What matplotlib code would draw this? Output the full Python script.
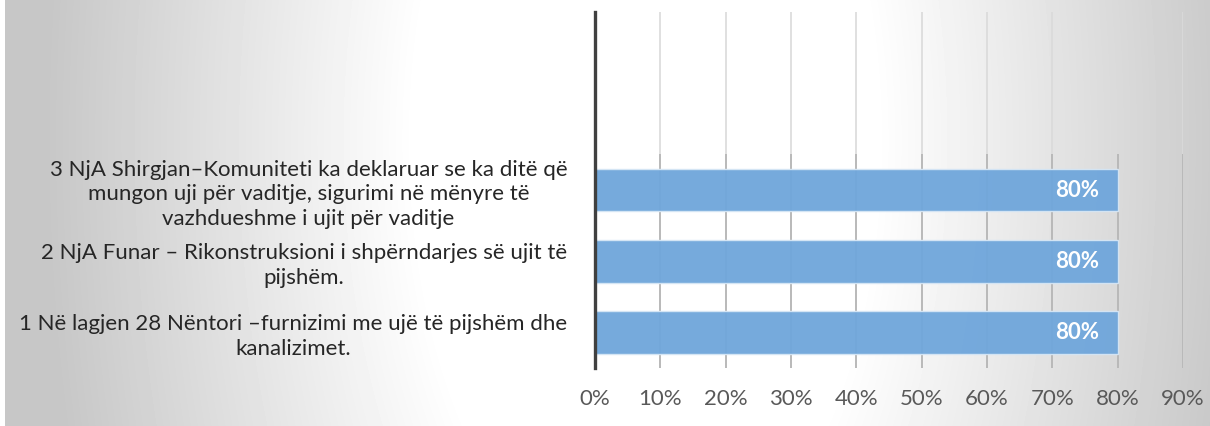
import numpy as np
import matplotlib.pyplot as plt
from matplotlib.ticker import PercentFormatter

plt.rcParams['font.family'] = ['Lato', 'DejaVu Sans']

# categories from bottom to top (top two slots are empty in the source chart)
categories = [
    "1 Në lagjen 28 Nëntori –furnizimi me ujë të pijshëm dhe\nkanalizimet.",
    "2 NjA Funar – Rikonstruksioni i shpërndarjes së ujit të\npijshëm.",
    "3 NjA Shirgjan–Komuniteti ka deklaruar se ka ditë që\nmungon uji për vaditje, sigurimi në mënyre të\nvazhdueshme i ujit për vaditje",
    "",
    "",
]
values = [0.80, 0.80, 0.80, np.nan, np.nan]
x_ticks = [0, 0.1, 0.2, 0.3, 0.4, 0.5, 0.6, 0.7, 0.8, 0.9]

W, H = 1210, 426
fig = plt.figure(figsize=(W / 100, H / 100), dpi=100)

# background: soft grey-white-grey gradient
bg = fig.add_axes([0, 0, 1, 1])
yy, xx = np.mgrid[0:H, 0:W]
r = np.sqrt(((xx - 645) / 230.0) ** 2 + ((yy - 140) / 440.0) ** 2)
k = np.clip((r - 1.0) / 1.6, 0, 1)
grey = 1.0 - 0.22 * k
grey[:, :5] = 1.0
bg.imshow(grey, cmap='gray', vmin=0, vmax=1, aspect='auto', interpolation='bilinear')
bg.set_axis_off()

ax = fig.add_axes([595 / W, 1 - 368 / H, (1183 - 595) / W, (368 - 12) / H])
ax.set_facecolor('none')

y = np.arange(len(categories))
bars = ax.barh(y, values, height=0.6, color='#6fa6db', alpha=0.95,
               edgecolor='#d6e6f5', linewidth=1.0, zorder=3)

for yi, v in zip(y, values):
    if not np.isnan(v):
        ax.text(v - 0.028, yi, f"{v:.0%}", ha='right', va='center',
                color='white', fontsize=16, fontweight='bold', zorder=4)

ax.set_xlim(0, 0.9)
ax.set_ylim(-0.5, len(categories) - 0.5)
ax.set_xticks(x_ticks)
ax.xaxis.set_major_formatter(PercentFormatter(1.0, decimals=0))
ax.set_yticks(y)
ax.set_yticklabels(categories, multialignment='center', fontsize=16,
                   color='#262626', linespacing=1.3)

ax.grid(axis='x', color='#dadada', linewidth=1.2, zorder=0)
ax.vlines(x_ticks[1:], -0.5, 2.5, color='#b3b3b3', linewidth=1.2, zorder=1)
ax.set_axisbelow(True)

for s in ['top', 'right', 'bottom']:
    ax.spines[s].set_visible(False)
ax.spines['left'].set_color('#404040')
ax.spines['left'].set_linewidth(2.4)
ax.spines['left'].set_zorder(5)

ax.tick_params(axis='both', length=0)
ax.tick_params(axis='x', labelsize=16, labelcolor='#595959', pad=15)
ax.tick_params(axis='y', pad=20)

fig.savefig('out.png', dpi=100)
